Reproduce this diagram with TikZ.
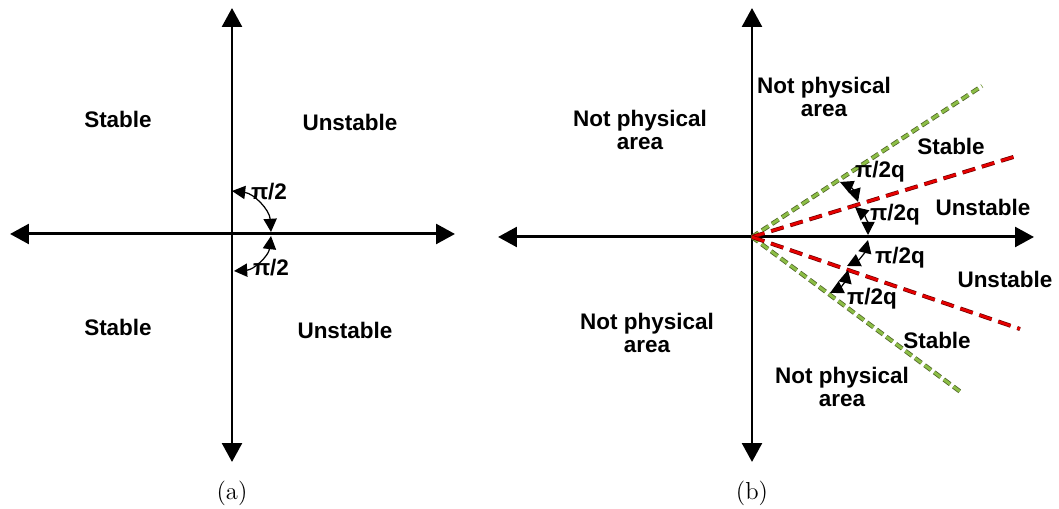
\documentclass[tikz,border=0pt]{standalone}
\usepackage{fontspec}
\setsansfont{Liberation Sans}
\usetikzlibrary{arrows.meta}
\definecolor{darkolive}{RGB}{79,98,40}
\definecolor{lightolive}{RGB}{140,190,70}
\definecolor{darkred}{RGB}{110,0,0}
\definecolor{brightred}{RGB}{230,0,0}
\tikzset{
  axis/.style={line width=1.7pt,
    {Triangle[length=10.8pt,width=11.3pt]}-{Triangle[length=10.8pt,width=11.3pt]}},
  angarc/.style={line width=0.7pt,
    {Triangle[length=7.5pt,width=7.5pt]}-{Triangle[length=7.5pt,width=7.5pt]}},
  lbl/.style={font=\sffamily\bfseries\fontsize{12.8}{13.6}\selectfont,align=center,inner sep=0pt},
  capt/.style={font=\fontsize{14}{16}\selectfont,inner sep=0pt},
  greenline/.style={draw=darkolive,double=lightolive,line width=0.45pt,
    double distance=1.6pt,dash pattern=on 4.5pt off 2.3pt},
  redline/.style={draw=darkred,double=brightred,line width=0.4pt,
    double distance=1.5pt,dash pattern=on 7.4pt off 4pt}
}
\begin{document}
\begin{tikzpicture}[x=0.02cm,y=0.02cm]
  \useasboundingbox (0,0) rectangle (1059,509);
  % (a)
  \coordinate (aO) at (232,275);
  \coordinate (aT) at (232,501);
  \coordinate (aB) at (232,47);
  \coordinate (aL) at (10,275);
  \coordinate (aR) at (455,275);
  \draw[axis] (aL) -- (aR);
  \draw[axis] (aB) -- (aT);
  \coordinate (aU1) at (232,318);
  \coordinate (aU2) at (271,277);
  \coordinate (aD1) at (271,273);
  \coordinate (aD2) at (234,238);
  \draw[angarc] (aU1) to[bend left=40] (aU2);
  \draw[angarc] (aD1) to[bend left=40] (aD2);
  \node[lbl] (piU) at (269,317) {π/2};
  \node[lbl] (piD) at (271,241) {π/2};
  \node[lbl] (stUL) at (118,390) {Stable};
  \node[lbl] (unUR) at (350,387) {Unstable};
  \node[lbl] (stDL) at (118,182) {Stable};
  \node[lbl] (unDR) at (345,179) {Unstable};
  \node[capt] (capa) at (232,16) {(a)};
  % (b)
  \coordinate (bO) at (752,272);
  \coordinate (bT) at (752,501);
  \coordinate (bB) at (752,47);
  \coordinate (bL) at (498,272);
  \coordinate (bR) at (1034,272);
  \draw[axis] (bL) -- (bR);
  \draw[axis] (bB) -- (bT);
  \coordinate (gU) at (982,423);
  \coordinate (rU) at (1020,354);
  \coordinate (rD) at (1020,180);
  \coordinate (gD) at (962,116);
  \draw[greenline] (bO) -- (gU);
  \draw[greenline] (bO) -- (gD);
  \draw[redline] (bO) -- (rU);
  \draw[redline] (bO) -- (rD);
  \coordinate (a1) at (840,327);
  \coordinate (a2) at (858,307);
  \coordinate (b1) at (855,302);
  \coordinate (b2) at (868,274);
  \coordinate (c1) at (868,269);
  \coordinate (c2) at (847,243);
  \coordinate (d1) at (848,239);
  \coordinate (d2) at (830,216);
  \begin{scope}[angarc]
    \draw (a1) to[bend left=25] (a2);
    \draw (b1) to[bend left=25] (b2);
    \draw (c1) to[bend left=25] (c2);
    \draw (d1) to[bend left=25] (d2);
  \end{scope}
  \node[lbl] (q1) at (880,337) {π/2q};
  \node[lbl] (q2) at (895,294) {π/2q};
  \node[lbl] (q3) at (900,251) {π/2q};
  \node[lbl] (q4) at (872,210) {π/2q};
  \node[lbl] (npTL) at (640,379) {Not physical\\area};
  \node[lbl] (npTM) at (824,412) {Not physical\\area};
  \node[lbl] (stU) at (951,363) {Stable};
  \node[lbl] (unU) at (983,302) {Unstable};
  \node[lbl] (unD) at (1005,230) {Unstable};
  \node[lbl] (stD) at (937,169) {Stable};
  \node[lbl] (npBL) at (647,176) {Not physical\\area};
  \node[lbl] (npBM) at (842,122) {Not physical\\area};
  \node[capt] (capb) at (752,16) {(b)};
\end{tikzpicture}
\end{document}
